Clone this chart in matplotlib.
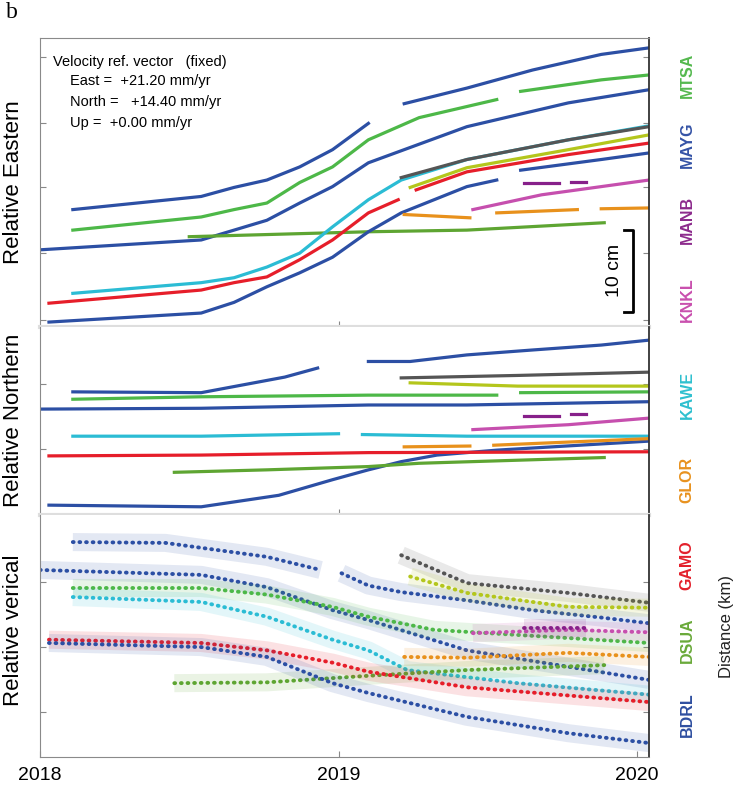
import numpy as np
import matplotlib
matplotlib.use("Agg")
import matplotlib.pyplot as plt

plt.rcParams["font.family"] = ["Liberation Sans", "DejaVu Sans"]

nan = float("nan")

# ---- colours of the stations
c_blue = "#2c4fa4"
c_green = "#4db848"
c_dgreen = "#5ea532"
c_cyan = "#2bbcd4"
c_red = "#e61e2a"
c_orange = "#e8911c"
c_magenta = "#c64fae"
c_purple = "#87208a"
c_yellow = "#b4c61c"
c_gray = "#555555"

# ---- Relative Eastern (cm), nan = data gap
te_blue1 = [2018.11, 2018.54, 2018.65, 2018.76, 2018.87, 2018.98, 2019.10, nan, 2019.22, 2019.43, 2019.65, 2019.88, 2020.04]
e_blue1 = [14.3, 15.9, 17.0, 17.9, 19.5, 21.6, 24.8, nan, 27.2, 29.1, 31.3, 33.2, 34.0]
te_green1 = [2018.11, 2018.54, 2018.65, 2018.76, 2018.87, 2018.98, 2019.10, 2019.27, 2019.53, nan, 2019.61, 2019.88, 2020.04]
e_green1 = [11.8, 13.4, 14.3, 15.1, 17.6, 19.5, 22.8, 25.5, 27.7, nan, 28.7, 30.1, 30.7]
te_blue2 = [2018.0, 2018.54, 2018.65, 2018.76, 2018.87, 2018.98, 2019.10, 2019.43, 2019.77, 2020.04]
e_blue2 = [9.4, 10.6, 11.8, 13.0, 15.1, 17.1, 20.0, 24.4, 27.3, 28.9]
te_green2 = [2018.50, 2019.10, 2019.43, 2019.89]
e_green2 = [11.0, 11.6, 11.8, 12.7]
te_cyan = [2018.11, 2018.54, 2018.65, 2018.76, 2018.87, 2018.98, 2019.10, 2019.21, 2019.43, 2019.77, 2020.04]
e_cyan = [4.1, 5.4, 6.0, 7.3, 9.0, 12.2, 15.5, 17.9, 20.4, 22.8, 24.5]
te_red = [2018.03, 2018.54, 2018.65, 2018.76, 2018.87, 2018.98, 2019.10, 2019.20, nan, 2019.26, 2019.43, 2019.77, 2020.04]
e_red = [2.9, 4.5, 5.4, 6.1, 8.2, 10.6, 13.9, 15.5, nan, 16.7, 18.9, 21.0, 22.4]
te_blue3 = [2018.03, 2018.54, 2018.65, 2018.76, 2018.87, 2018.98, 2019.10, 2019.21, 2019.43, 2019.53, nan, 2019.61, 2019.88, 2020.04]
e_blue3 = [0.6, 1.7, 3.0, 4.9, 6.6, 8.5, 11.6, 13.9, 17.1, 17.9, nan, 19.1, 20.4, 21.2]
te_gray = [2019.21, 2019.43, 2019.77, 2020.04]
e_gray = [18.2, 20.4, 22.8, 24.4]
te_yellow = [2019.24, 2019.43, 2019.77, 2020.04]
e_yellow = [17.0, 19.4, 21.6, 23.4]
te_purple = [2019.62, 2019.74, nan, 2019.78, 2019.83]
e_purple = [17.6, 17.6, nan, 17.7, 17.7]
te_magenta = [2019.45, 2019.68, 2019.88, 2020.04]
e_magenta = [14.3, 16.1, 17.1, 17.9]
te_orange = [2019.22, 2019.44, nan, 2019.53, 2019.80, nan, 2019.88, 2020.04]
e_orange = [13.7, 13.3, nan, 13.9, 14.3, nan, 14.4, 14.5]

# ---- Relative Northern (cm)
tn_blue1 = [2018.11, 2018.54, 2018.82, 2018.93, nan, 2019.10, 2019.24, 2019.43, 2019.65, 2019.88, 2020.04]
n_blue1 = [15.0, 14.9, 16.8, 17.9, nan, 18.7, 18.7, 19.5, 20.1, 20.7, 21.3]
tn_green1 = [2018.11, 2018.54, 2019.10, 2019.53, nan, 2019.61, 2020.04]
n_green1 = [14.1, 14.4, 14.6, 14.6, nan, 14.9, 15.0]
tn_blue2 = [2018.0, 2018.54, 2019.10, 2019.43, 2020.04]
n_blue2 = [12.9, 13.0, 13.4, 13.4, 13.8]
tn_cyan = [2018.11, 2018.54, 2019.0, nan, 2019.08, 2019.43, 2020.04]
n_cyan = [9.6, 9.6, 9.9, nan, 9.8, 9.6, 9.6]
tn_red = [2018.03, 2018.54, 2019.10, 2020.04]
n_red = [7.2, 7.3, 7.6, 7.7]
tn_green2 = [2018.45, 2018.76, 2019.10, 2019.27, 2019.89]
n_green2 = [5.2, 5.5, 5.9, 6.3, 7.0]
tn_blue3 = [2018.03, 2018.54, 2018.80, 2018.98, 2019.10, 2019.21, 2019.33, 2019.53, 2020.04]
n_blue3 = [1.2, 1.0, 2.4, 4.3, 5.5, 6.5, 7.3, 7.9, 9.0]
tn_gray = [2019.21, 2019.60, 2020.04]
n_gray = [16.7, 17.0, 17.4]
tn_yellow = [2019.24, 2019.60, 2020.04]
n_yellow = [16.1, 15.7, 15.7]
tn_purple = [2019.62, 2019.74, nan, 2019.78, 2019.83]
n_purple = [12.0, 12.0, nan, 12.3, 12.3]
tn_magenta = [2019.45, 2019.77, 2020.04]
n_magenta = [10.4, 11.0, 11.8]
tn_orange = [2019.22, 2019.44, nan, 2019.52, 2020.04]
n_orange = [8.3, 8.4, nan, 8.5, 9.3]

# ---- Relative vertical (cm)
tv_blue1 = [2018.11, 2018.42, 2018.76, 2018.94, nan, 2019.01, 2019.10, 2019.21, 2019.43, 2019.65, 2019.88, 2020.04]
v_blue1 = [26.2, 26.1, 24.4, 22.8, nan, 22.4, 20.9, 20.1, 19.1, 17.9, 17.0, 16.3]
tv_blue2 = [2018.0, 2018.54, 2018.76, 2018.98, 2019.10, 2019.43, 2019.77, 2020.04]
v_blue2 = [22.8, 22.2, 20.7, 17.9, 16.7, 13.0, 11.0, 9.4]
tv_green1 = [2018.11, 2018.54, 2018.76, 2018.98, 2019.10, 2019.32, 2020.04]
v_green1 = [20.6, 20.6, 19.8, 18.3, 17.1, 15.5, 13.9]
tv_cyan = [2018.11, 2018.54, 2018.76, 2018.98, 2019.10, 2019.23, 2019.60, 2020.04]
v_cyan = [19.5, 18.9, 17.1, 14.3, 13.0, 10.6, 9.0, 7.6]
tv_red = [2018.03, 2018.54, 2018.76, 2018.98, 2019.10, 2019.43, 2020.04]
v_red = [14.3, 13.9, 13.0, 11.5, 10.4, 8.5, 6.7]
tv_blue3 = [2018.03, 2018.54, 2018.76, 2018.98, 2019.10, 2019.43, 2019.77, 2020.04]
v_blue3 = [13.9, 13.4, 12.2, 9.0, 7.8, 4.9, 2.9, 1.7]
tv_green2 = [2018.45, 2018.76, 2019.10, 2019.43, 2019.89]
v_green2 = [9.0, 9.1, 9.9, 10.6, 11.2]
tv_gray = [2019.21, 2019.43, 2019.77, 2020.04]
v_gray = [24.6, 21.2, 20.0, 18.8]
tv_yellow = [2019.24, 2019.43, 2019.77, 2020.04]
v_yellow = [22.0, 20.0, 18.3, 18.2]
tv_magenta = [2019.45, 2019.77, 2020.04]
v_magenta = [15.1, 15.5, 15.2]
tv_purple = [2019.62, 2019.83]
v_purple = [15.7, 15.7]
tv_orange = [2019.22, 2019.43, 2019.77, 2020.04]
v_orange = [12.2, 12.1, 12.7, 12.2]

stations = ["MTSA", "MAYG", "MANB", "KNKL", "KAWE", "GLOR", "GAMO", "DSUA", "BDRL"]
station_colors = ["#55b94f", "#3553a6", "#8c2a8c", "#c94fae", "#2fc0cf",
                  "#e8921f", "#e3202b", "#6aaa3a", "#2f4fa0"]

W, H = 735, 794
fig = plt.figure(figsize=(W / 100, H / 100), dpi=100)


def fx(x):
    return x / W


def fy(y):
    return 1 - y / H


def make_ax(top, bottom, ymax, ticks):
    ax = fig.add_axes([fx(40), fy(bottom), fx(649) - fx(40), fy(top) - fy(bottom)])
    ax.set_xlim(2018.0, 2020.04)
    ax.set_ylim(0, ymax)
    ax.set_yticks(ticks)
    ax.set_yticklabels([])
    ax.tick_params(axis="y", direction="in", length=4, color="#888888", right=True)
    ax.tick_params(axis="x", direction="in", length=4, color="#888888")
    for s in ["left", "top", "bottom"]:
        ax.spines[s].set_color("#8a8a8a")
    ax.spines["right"].set_color("#333333")
    ax.spines["right"].set_linewidth(1.3)
    return ax


ax_e = make_ax(38, 327, 35.2, [0.85, 9.0, 17.0, 24.9, 32.9])
ax_n = make_ax(327, 515, 22.9, [8.0, 16.0])
ax_v = make_ax(515, 757, 29.5, [5.5, 13.4, 21.3])

for ax in (ax_e, ax_n):
    ax.set_xticks([2019])
    ax.set_xticklabels([])
ax_e.spines["bottom"].set_color("#dedede")
ax_e.spines["bottom"].set_linewidth(3)
ax_n.spines["top"].set_visible(False)
ax_n.spines["bottom"].set_color("#dedede")
ax_n.spines["bottom"].set_linewidth(3)
ax_v.spines["top"].set_visible(False)

ax_v.set_xticks([2018, 2019, 2020])
ax_v.set_xticklabels(["2018", "2019", "2020"], fontsize=14)
ax_v.tick_params(axis="x", pad=7)

lw = 2.3
ax_e.plot(te_blue1, e_blue1, color=c_blue, lw=lw)
ax_e.plot(te_green1, e_green1, color=c_green, lw=lw)
ax_e.plot(te_blue2, e_blue2, color=c_blue, lw=lw)
ax_e.plot(te_green2, e_green2, color=c_dgreen, lw=lw)
ax_e.plot(te_cyan, e_cyan, color=c_cyan, lw=lw)
ax_e.plot(te_gray, e_gray, color=c_gray, lw=lw)
ax_e.plot(te_yellow, e_yellow, color=c_yellow, lw=lw)
ax_e.plot(te_red, e_red, color=c_red, lw=lw)
ax_e.plot(te_blue3, e_blue3, color=c_blue, lw=lw)
ax_e.plot(te_purple, e_purple, color=c_purple, lw=lw)
ax_e.plot(te_magenta, e_magenta, color=c_magenta, lw=lw)
ax_e.plot(te_orange, e_orange, color=c_orange, lw=lw)

ax_n.plot(tn_blue1, n_blue1, color=c_blue, lw=lw)
ax_n.plot(tn_gray, n_gray, color=c_gray, lw=lw)
ax_n.plot(tn_yellow, n_yellow, color=c_yellow, lw=lw)
ax_n.plot(tn_green1, n_green1, color=c_green, lw=lw)
ax_n.plot(tn_blue2, n_blue2, color=c_blue, lw=lw)
ax_n.plot(tn_purple, n_purple, color=c_purple, lw=lw)
ax_n.plot(tn_magenta, n_magenta, color=c_magenta, lw=lw)
ax_n.plot(tn_cyan, n_cyan, color=c_cyan, lw=lw)
ax_n.plot(tn_blue3, n_blue3, color=c_blue, lw=lw)
ax_n.plot(tn_orange, n_orange, color=c_orange, lw=lw)
ax_n.plot(tn_red, n_red, color=c_red, lw=lw)
ax_n.plot(tn_green2, n_green2, color=c_dgreen, lw=lw)

# vertical: noisy daily points drawn as a faint band plus a dotted trace
vert = [(tv_blue1, v_blue1, c_blue), (tv_blue2, v_blue2, c_blue),
        (tv_green1, v_green1, c_green), (tv_cyan, v_cyan, c_cyan),
        (tv_gray, v_gray, c_gray), (tv_yellow, v_yellow, c_yellow),
        (tv_magenta, v_magenta, c_magenta), (tv_purple, v_purple, c_purple),
        (tv_orange, v_orange, c_orange), (tv_green2, v_green2, c_dgreen),
        (tv_red, v_red, c_red), (tv_blue3, v_blue3, c_blue)]
for t, v, c in vert:
    ax_v.plot(t, v, color=c, lw=13, alpha=0.13, solid_capstyle="butt")
    ax_v.plot(t, v, color=c, lw=2.8, linestyle=(0, (0.2, 1.5)),
              dash_capstyle="round")

# scale bar 10 cm
ax_e.plot([0.959, 0.974, 0.974, 0.959], [0.052, 0.052, 0.336, 0.336],
          transform=ax_e.transAxes, color="black", lw=2)
ax_e.text(0.943, 0.194, "10 cm", transform=ax_e.transAxes, rotation=90,
          ha="center", va="center", fontsize=14)

# velocity reference text
fig.text(fx(53), fy(62), "Velocity ref. vector   (fixed)", fontsize=10.5, va="center")
fig.text(fx(70), fy(81), "East =  +21.20 mm/yr", fontsize=10.5, va="center")
fig.text(fx(70), fy(102), "North =   +14.40 mm/yr", fontsize=10.5, va="center")
fig.text(fx(70), fy(123), "Up =  +0.00 mm/yr", fontsize=10.5, va="center")

fig.text(fx(12), fy(12), "b", fontsize=17, ha="center", va="center",
         family="Liberation Serif")

fig.text(fx(14), fy(182), "Relative Eastern", rotation=90, fontsize=16, ha="center", va="center")
fig.text(fx(14), fy(420), "Relative Northern", rotation=90, fontsize=16, ha="center", va="center")
fig.text(fx(14), fy(630), "Relative verical", rotation=90, fontsize=16, ha="center", va="center")

label_y = [75, 145, 220, 300, 395, 480, 565, 640, 715]
for name, col, y in zip(stations, station_colors, label_y):
    fig.text(fx(687), fy(y), name, rotation=90, fontsize=11.5, fontweight="bold",
             color=col, ha="center", va="center")

# axis title at the right edge
fig.text(fx(727), fy(627), "Distance (km)", rotation=90, fontsize=12,
         ha="center", va="center", color="#222222")

fig.savefig("out.png", dpi=100, facecolor="white")
